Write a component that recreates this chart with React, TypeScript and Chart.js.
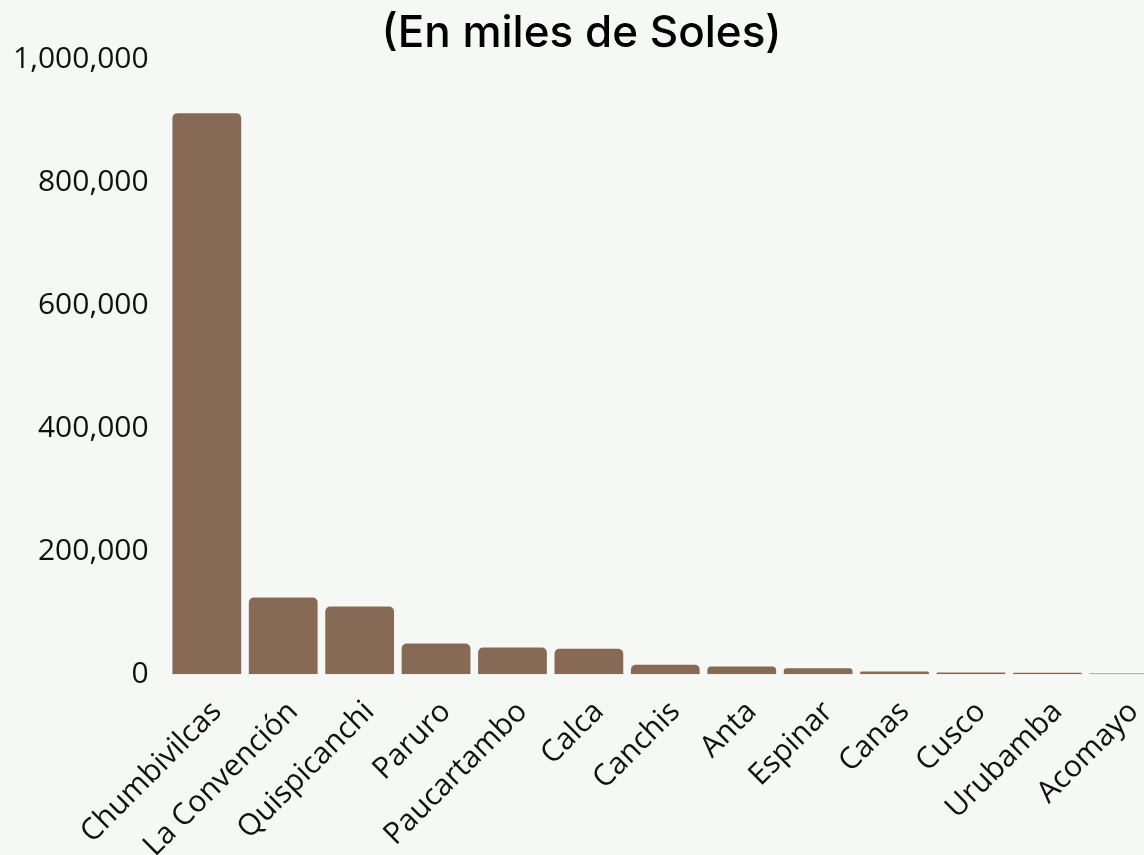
import React, { useEffect, useRef } from "react";
import { Chart, registerables } from "chart.js";

Chart.register(...registerables);

const categories = [
  "Chumbivilcas",
  "La Convención",
  "Quispicanchi",
  "Paruro",
  "Paucartambo",
  "Calca",
  "Canchis",
  "Anta",
  "Espinar",
  "Canas",
  "Cusco",
  "Urubamba",
  "Acomayo",
];

const values = [912000, 124700, 110000, 49900, 43400, 41300, 15300, 12500, 9800, 4400, 2800, 2300, 1100];

const titleText = "(En miles de Soles)";

const BG = "#F6F8F6";
const BAR = "#866A55";

export default function App() {
  const ref = useRef<HTMLCanvasElement | null>(null);

  useEffect(() => {
    document.body.style.margin = "0";
    document.body.style.overflow = "hidden";
    document.body.style.background = BG;
    const ctx = ref.current!;
    const chart = new Chart(ctx, {
      type: "bar",
      data: {
        labels: categories,
        datasets: [
          {
            data: values,
            backgroundColor: BAR,
            borderRadius: 5,
            barPercentage: 0.9,
            categoryPercentage: 1,
          },
        ],
      },
      options: {
        animation: false,
        responsive: true,
        maintainAspectRatio: false,
        layout: { padding: { left: 1, right: 8, top: 0, bottom: 0 } },
        plugins: {
          legend: { display: false },
          tooltip: { enabled: false },
          title: {
            display: true,
            text: titleText,
            color: "#000",
            font: { family: "Inter", size: 44, weight: "500", lineHeight: 1 },
            padding: { top: 12, bottom: 3 },
          },
        },
        scales: {
          x: {
            grid: { display: false },
            border: { display: false },
            ticks: {
              color: "#111",
              padding: 12,
              labelOffset: 10,
              font: { family: "Open Sans", size: 30 },
              maxRotation: 45,
              minRotation: 45,
              autoSkip: false,
            },
          },
          y: {
            min: 0,
            max: 1000000,
            grid: { display: false },
            border: { display: false },
            ticks: {
              stepSize: 200000,
              color: "#111",
              padding: 12,
              font: { family: "Open Sans", size: 30 },
              callback: (v: any) => Number(v).toLocaleString("en-US"),
            },
          },
        },
      },
    });
    return () => chart.destroy();
  }, []);

  return (
    <div style={{ position: "absolute", left: 0, top: 0, width: 1170, height: 876, background: BG }}>
      <canvas ref={ref} />
    </div>
  );
}
